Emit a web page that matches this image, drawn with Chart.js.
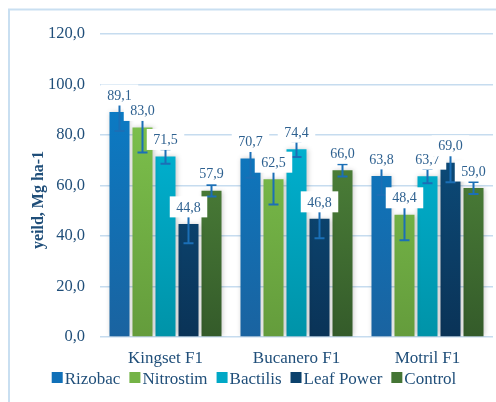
<!DOCTYPE html>
<html>
<head>
<meta charset="utf-8">
<script src="https://cdn.jsdelivr.net/npm/chart.js@4/dist/chart.umd.min.js"></script>
<style>
  html, body { margin: 0; padding: 0; background: #fff; }
  #wrap { width: 496px; height: 402px; position: relative; }
</style>
</head>
<body>
<div id="wrap"><canvas id="yieldChart"></canvas></div>
<script>
const categories = ['Kingset F1', 'Bucanero F1', 'Motril F1'];
const seriesNames = ['Rizobac', 'Nitrostim', 'Bactilis', 'Leaf Power', 'Control'];

const rizobac = [89.1, 70.7, 63.8];
const nitrostim = [83.0, 62.5, 48.4];
const bactilis = [71.5, 74.4, 63.7];
const leafPower = [44.8, 46.8, 69.0];
const control = [57.9, 66.0, 59.0];

const rizobacErr = [7.5, 7.6, 7.6];
const nitrostimErr = [9.9, 10.0, 10.1];
const bactilisErr = [2.9, 3.1, 2.8];
const leafPowerErr = [7.7, 7.7, 7.7];
const controlErr = [2.3, 2.4, 2.4];

const yTicks = [0, 20, 40, 60, 80, 100, 120];
const axisTitle = 'yeild, Mg ha-1';

// [top, bottom] gradient colours per series
const palette = [
    ['#0a7cc6', '#1a63a0'],
    ['#7fc44d', '#649c3c'],
    ['#00b7d9', '#0093a8'],
    ['#0d5283', '#0a3357'],
    ['#548c3d', '#345b2a']
];
const legendColors = ['#1070b8', '#74b346', '#00a8c6', '#0b416c', '#447534'];

const values = [rizobac, nitrostim, bactilis, leafPower, control];
const errors = [rizobacErr, nitrostimErr, bactilisErr, leafPowerErr, controlErr];

const fmt = v => v.toFixed(1).replace('.', ',');
const SERIF = '"Liberation Serif", "Times New Roman", serif';

function gradientFor(i) {
    return (c) => {
        const area = c.chart.chartArea;
        if (!area) return palette[i][0];
        const g = c.chart.ctx.createLinearGradient(0, area.bottom, 0, area.top + 60);
        g.addColorStop(0, palette[i][1]);
        g.addColorStop(1, palette[i][0]);
        return g;
    };
}

const framePlugin = {
    id: 'framePlugin',
    beforeDraw: (chart) => {
        const { ctx } = chart;
        ctx.save();
        ctx.strokeStyle = '#c9dff1';
        ctx.lineWidth = 2;
        ctx.beginPath();
        ctx.moveTo(9, 402);
        ctx.lineTo(9, 9.5);
        ctx.lineTo(496, 9.5);
        ctx.stroke();
        ctx.restore();
    }
};

const shadowPlugin = {
    id: 'shadowPlugin',
    beforeDatasetsDraw: (chart) => {
        const { ctx } = chart;
        ctx.save();
        ctx.shadowColor = 'rgba(0,0,0,0.22)';
        ctx.shadowBlur = 5;
        ctx.shadowOffsetX = 1;
        ctx.shadowOffsetY = 0;
    },
    afterDatasetsDraw: (chart) => {
        chart.ctx.restore();
    }
};

const errorLabelPlugin = {
    id: 'errorLabelPlugin',
    afterDatasetsDraw: (chart) => {
        const { ctx, scales: { y } } = chart;
        ctx.save();
        // error bars
        ctx.strokeStyle = '#1b6fb6';
        ctx.lineWidth = 2;
        chart.data.datasets.forEach((ds, di) => {
            const meta = chart.getDatasetMeta(di);
            meta.data.forEach((bar, i) => {
                const v = ds.data[i], e = errors[di][i];
                const yTop = y.getPixelForValue(v + e);
                const yBot = y.getPixelForValue(v - e);
                ctx.beginPath();
                ctx.moveTo(bar.x, yTop);
                ctx.lineTo(bar.x, yBot);
                ctx.moveTo(bar.x - 5, yTop);
                ctx.lineTo(bar.x + 5, yTop);
                ctx.moveTo(bar.x - 5, yBot);
                ctx.lineTo(bar.x + 5, yBot);
                ctx.stroke();
            });
        });
        // value labels with white boxes
        ctx.font = '14px ' + SERIF;
        ctx.textAlign = 'center';
        ctx.textBaseline = 'middle';
        chart.data.datasets.forEach((ds, di) => {
            const meta = chart.getDatasetMeta(di);
            meta.data.forEach((bar, i) => {
                const txt = fmt(ds.data[i]);
                const cy = bar.y - 17;
                const w = ctx.measureText(txt).width + 13;
                const h = 21;
                ctx.fillStyle = '#ffffff';
                ctx.fillRect(bar.x - w / 2, cy - h / 2, w, h);
                ctx.fillStyle = '#2e6190';
                ctx.fillText(txt, bar.x, cy + 1);
            });
        });
        ctx.restore();
    },
    afterDraw: (chart) => {
        const { ctx } = chart;
        ctx.save();
        // axis title
        ctx.translate(38.5, 200);
        ctx.rotate(-Math.PI / 2);
        ctx.font = 'bold 16px ' + SERIF;
        ctx.fillStyle = '#1f4e79';
        ctx.textAlign = 'center';
        ctx.textBaseline = 'middle';
        ctx.fillText(axisTitle, 0, 0);
        ctx.restore();

        // legend
        ctx.save();
        ctx.font = '17px ' + SERIF;
        ctx.textBaseline = 'alphabetic';
        const box = 11, gapText = 2, gapItem = 9;
        const widths = seriesNames.map(n => box + gapText + ctx.measureText(n).width);
        const total = widths.reduce((a, b) => a + b, 0) + gapItem * (seriesNames.length - 1);
        let x = 254 - total / 2;
        seriesNames.forEach((n, i) => {
            ctx.fillStyle = legendColors[i];
            ctx.fillRect(x, 372, box, box);
            ctx.fillStyle = '#1f4e79';
            ctx.fillText(n, x + box + gapText, 383.5);
            x += widths[i] + gapItem;
        });
        ctx.restore();
    }
};

const ctx = document.getElementById('yieldChart').getContext('2d');

new Chart(ctx, {
    type: 'bar',
    plugins: [framePlugin, shadowPlugin, errorLabelPlugin],
    data: {
        labels: categories,
        datasets: seriesNames.map((name, i) => ({
            label: name,
            data: values[i],
            backgroundColor: gradientFor(i),
            borderWidth: 0,
            categoryPercentage: 0.878,
            barPercentage: 0.87
        }))
    },
    options: {
        responsive: true,
        maintainAspectRatio: false,
        animation: false,
        devicePixelRatio: 1,
        layout: { padding: { top: 34, right: 3, left: 0, bottom: 0 } },
        plugins: {
            legend: { display: false },
            tooltip: { enabled: false }
        },
        scales: {
            x: {
                grid: { display: false, drawTicks: false },
                border: { display: false },
                ticks: {
                    color: '#1f4e79',
                    font: { family: SERIF, size: 17 },
                    padding: 11
                },
                afterFit: (s) => { s.height = 65; }
            },
            y: {
                min: 0,
                max: 120,
                afterBuildTicks: (s) => { s.ticks = yTicks.map(v => ({ value: v })); },
                grid: { color: '#c6dcef', lineWidth: 1.5, drawTicks: false },
                border: { display: false },
                ticks: {
                    color: '#1f4e79',
                    font: { family: SERIF, size: 16.5 },
                    padding: 15,
                    callback: (v) => fmt(v)
                },
                afterFit: (s) => { s.width = 100; }
            }
        }
    }
});
</script>
</body>
</html>
